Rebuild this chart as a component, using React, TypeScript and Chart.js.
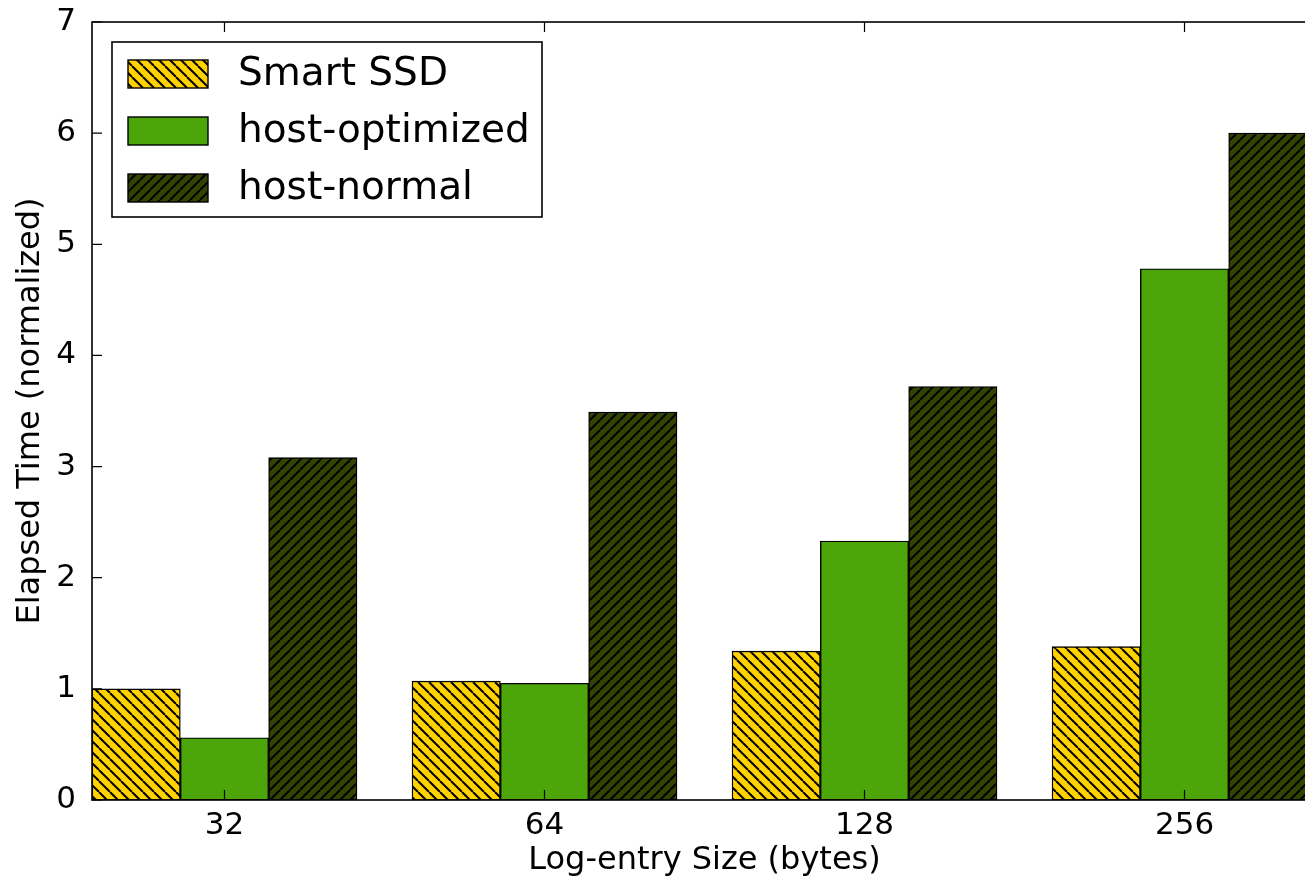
import React, { useEffect, useRef } from "react";
import { Chart, registerables } from "chart.js";

Chart.register(...registerables);

const categories = ["32", "64", "128", "256"];
const seriesLabels = ["Smart SSD", "host-optimized", "host-normal"];
const smartSSD = [1.0, 1.07, 1.34, 1.38];
const hostOptimized = [0.56, 1.05, 2.33, 4.78];
const hostNormal = [3.08, 3.49, 3.72, 6.0];
const yTicks = [0, 1, 2, 3, 4, 5, 6, 7];
const barWidth = 0.276;

const FONT = "'DejaVu Sans', 'Liberation Sans', sans-serif";

function makeHatch(color: string, dir: "back" | "fwd", size = 8): CanvasPattern | string {
  const c = document.createElement("canvas");
  c.width = size;
  c.height = size;
  const ctx = c.getContext("2d");
  if (!ctx) return color;
  ctx.fillStyle = color;
  ctx.fillRect(0, 0, size, size);
  ctx.strokeStyle = "#000";
  ctx.lineWidth = 2;
  for (let k = -1; k <= 1; k++) {
    ctx.beginPath();
    if (dir === "back") {
      ctx.moveTo(k * size, 0);
      ctx.lineTo(k * size + size, size);
    } else {
      ctx.moveTo(k * size, size);
      ctx.lineTo(k * size + size, 0);
    }
    ctx.stroke();
  }
  const p = ctx.createPattern(c, "repeat");
  return p || color;
}

const framePlugin = {
  id: "mplFrame",
  afterDatasetsDraw(chart: any) {
    const { ctx, chartArea } = chart;
    const { left, right, top, bottom } = chartArea;
    const xs = chart.scales.x;
    const ys = chart.scales.y;
    ctx.save();
    ctx.strokeStyle = "#000";
    ctx.lineWidth = 1.6;
    ctx.strokeRect(left, top, right - left, bottom - top);
    ctx.lineWidth = 1.2;
    const tl = 10;
    ctx.beginPath();
    xs.ticks.forEach((t: any) => {
      const px = xs.getPixelForValue(t.value);
      ctx.moveTo(px, bottom);
      ctx.lineTo(px, bottom - tl);
      ctx.moveTo(px, top);
      ctx.lineTo(px, top + tl);
    });
    ys.ticks.forEach((t: any) => {
      const py = ys.getPixelForValue(t.value);
      ctx.moveTo(left, py);
      ctx.lineTo(left + tl, py);
      ctx.moveTo(right, py);
      ctx.lineTo(right - tl, py);
    });
    ctx.stroke();

    // legend
    const lx = 112, ly = 42, lw = 430, lh = 175;
    ctx.fillStyle = "#fff";
    ctx.fillRect(lx, ly, lw, lh);
    ctx.lineWidth = 1.6;
    ctx.strokeRect(lx, ly, lw, lh);
    ctx.font = `39px ${FONT}`;
    ctx.textBaseline = "middle";
    ctx.textAlign = "left";
    chart.data.datasets.forEach((ds: any, i: number) => {
      const cy = 74 + i * 57;
      ctx.fillStyle = ds.backgroundColor;
      ctx.fillRect(128, cy - 14, 80, 28);
      ctx.lineWidth = 1.4;
      ctx.strokeStyle = "#000";
      ctx.strokeRect(128, cy - 14, 80, 28);
      ctx.fillStyle = "#000";
      ctx.fillText(ds.label, 238, cy + 1);
    });
    ctx.restore();
  },
};

export default function App() {
  const ref = useRef<HTMLCanvasElement>(null);
  useEffect(() => {
    if (!ref.current) return;
    const colors = [
      makeHatch("#ffd200", "back", 11),
      "#4ca60a",
      makeHatch("#334400", "fwd", 10),
    ];
    const seriesValues = [smartSSD, hostOptimized, hostNormal];
    const datasets = seriesValues.map((vals, k) => ({
      label: seriesLabels[k],
      data: vals.map((v, i) => ({ x: i + (k + 0.5) * barWidth, y: v })),
      backgroundColor: colors[k],
      borderColor: "#000",
      borderWidth: 1.4,
      borderSkipped: false,
      grouped: false,
      barPercentage: 1,
      categoryPercentage: 1,
    }));
    const chart = new Chart(ref.current, {
      type: "bar",
      data: { datasets: datasets as any },
      plugins: [framePlugin],
      options: {
        animation: false,
        responsive: false,
        devicePixelRatio: 1,
        layout: { padding: { top: 22, right: 3, left: 0, bottom: 0 } },
        plugins: { legend: { display: false }, tooltip: { enabled: false } },
        scales: {
          x: {
            type: "linear",
            offset: false,
            min: 0,
            max: categories.length - 1 + 3 * barWidth,
            grid: { display: false },
            border: { display: false },
            afterBuildTicks: (scale: any) => {
              scale.ticks = categories.map((_, i) => ({ value: i + 1.5 * barWidth }));
            },
            afterFit: (scale: any) => {
              scale.height = 78;
              scale.paddingLeft = 0;
              scale.paddingRight = 0;
            },
            ticks: {
              autoSkip: false,
              maxRotation: 0,
              padding: -1,
              color: "#000",
              font: { family: FONT, size: 31 },
              callback: (_v: any, i: number) => categories[i],
            },
            title: {
              display: true,
              text: "Log-entry Size (bytes)",
              color: "#000",
              font: { family: FONT, size: 32 },
              padding: { top: 0, bottom: -2 },
            },
          },
          y: {
            min: 0,
            max: 7,
            grid: { display: false },
            border: { display: false },
            afterBuildTicks: (scale: any) => {
              scale.ticks = yTicks.map((v) => ({ value: v }));
            },
            afterFit: (scale: any) => {
              scale.width = 92;
              scale.paddingTop = 0;
              scale.paddingBottom = 0;
            },
            ticks: {
              padding: 8,
              color: "#000",
              font: { family: FONT, size: 31 },
              callback: (v: any) => String(v),
            },
            title: {
              display: true,
              text: "Elapsed Time (normalized)",
              color: "#000",
              font: { family: FONT, size: 32 },
              padding: { top: 11, bottom: 0 },
            },
          },
        },
      },
    } as any);
    return () => chart.destroy();
  }, []);
  return (
    <div
      style={{
        position: "fixed",
        left: 0,
        top: 0,
        width: 1305,
        height: 878,
        overflow: "hidden",
        background: "#fff",
      }}
    >
      <canvas ref={ref} width={1320} height={878} style={{ display: "block" }} />
    </div>
  );
}
